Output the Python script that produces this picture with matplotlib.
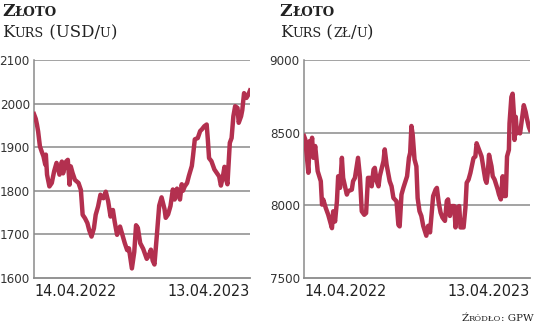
import matplotlib
matplotlib.use("Agg")
import matplotlib.pyplot as plt
import pandas as pd

# dni od 14.04.2022 i kurs zlota
usd_days = [0, 3, 5, 7, 10, 13, 16, 19, 20, 22, 26, 30, 34, 38, 43, 47, 49, 54, 57, 60,
            62, 65, 69, 75, 79, 82, 86, 90, 93, 97, 101, 104, 108, 112, 117, 121, 125, 129,
            133, 136, 140, 145, 149, 153, 157, 160, 165, 169, 172, 175, 179, 184, 190, 193,
            197, 200, 203, 207, 211, 215, 220, 222, 226, 230, 234, 237, 241, 246, 249, 251,
            254, 258, 261, 266, 268, 271, 276, 280, 283, 287, 291, 293, 295, 299, 304, 308,
            312, 315, 318, 321, 323, 326, 330, 333, 336, 339, 343, 345, 349, 351, 354, 358,
            361, 364]
usd_vals = [1976, 1965, 1952, 1936, 1902, 1890, 1879, 1860, 1883, 1837, 1810, 1818, 1845,
            1864, 1837, 1867, 1840, 1867, 1871, 1814, 1856, 1841, 1825, 1818, 1802, 1745,
            1737, 1726, 1710, 1695, 1714, 1745, 1764, 1791, 1783, 1798, 1776, 1741, 1756,
            1729, 1699, 1718, 1699, 1680, 1664, 1668, 1622, 1660, 1721, 1715, 1680, 1667,
            1644, 1650, 1665, 1640, 1631, 1697, 1766, 1785, 1758, 1738, 1746, 1765, 1803,
            1780, 1805, 1780, 1815, 1800, 1810, 1818, 1834, 1857, 1880, 1918, 1921, 1937,
            1941, 1948, 1952, 1917, 1875, 1868, 1849, 1841, 1833, 1812, 1830, 1855, 1830,
            1815, 1910, 1921, 1971, 1994, 1990, 1956, 1971, 1985, 2024, 2013, 2020, 2030]

pln_days = [0, 2, 4, 7, 9, 10, 13, 15, 18, 22, 27, 29, 31, 35, 39, 42, 45, 47, 50, 53, 55,
            58, 61, 63, 66, 69, 71, 77, 79, 82, 87, 90, 93, 97, 100, 103, 106, 109, 112, 114,
            117, 120, 122, 128, 130, 133, 138, 141, 144, 149, 152, 154, 157, 160, 166, 169,
            171, 173, 175, 178, 181, 183, 186, 189, 192, 197, 200, 203, 208, 212, 214, 217,
            220, 223, 227, 230, 232, 235, 238, 242, 244, 247, 250, 252, 257, 260, 262, 265,
            268, 273, 276, 278, 281, 284, 286, 292, 294, 296, 298, 302, 304, 307, 312, 314,
            317, 320, 322, 325, 327, 330, 331, 334, 336, 338, 339, 341, 343, 345, 348, 354,
            357, 359, 362, 364]
pln_vals = [8477, 8454, 8362, 8224, 8442, 8350, 8465, 8327, 8408, 8235, 8166, 8005, 8040,
            7982, 7935, 7889, 7843, 7959, 7889, 8028, 8200, 8120, 8327, 8189, 8131, 8074,
            8097, 8108, 8166, 8189, 8327, 8200, 7959, 7935, 7947, 8189, 8189, 8131, 8247,
            8258, 8166, 8131, 8200, 8304, 8385, 8281, 8166, 8131, 8051, 8028, 7866, 7855,
            8074, 8120, 8200, 8327, 8362, 8546, 8488, 8316, 8268, 8050, 7960, 7927, 7859,
            7791, 7859, 7814, 8064, 8109, 8120, 8018, 7950, 7916, 7893, 8030, 8041, 7927,
            7995, 7995, 7848, 7984, 7995, 7848, 7848, 7984, 8155, 8177, 8223, 8325, 8336,
            8427, 8393, 8359, 8336, 8177, 8155, 8223, 8348, 8268, 8200, 8177, 8109, 8075,
            8041, 8200, 8064, 8064, 8336, 8382, 8564, 8745, 8768, 8632, 8450, 8609, 8495,
            8518, 8495, 8689, 8643, 8598, 8541, 8518]

start = pd.Timestamp("2022-04-14")
end = pd.Timestamp("2023-04-13")
date_labels = ["14.04.2022", "13.04.2023"]

RED = "#b3304f"
GRID = "#8a8a8a"
DARK = "#222222"

fig = plt.figure(figsize=(5.36, 3.25), dpi=100)
ax1 = fig.add_axes([0.0634, 0.1446, 0.403, 0.6708])
ax2 = fig.add_axes([0.5672, 0.1446, 0.4216, 0.6708])


def setup(ax, days, vals, ylim, yticks):
    x = [start + pd.Timedelta(days=d) for d in days]
    ax.plot(x, vals, color=RED, lw=3.2, solid_joinstyle="round", zorder=3)
    ax.set_xlim(start, end)
    ax.set_ylim(*ylim)
    ax.set_yticks(yticks)
    ax.set_yticklabels([str(t) for t in yticks], family="DejaVu Sans", stretch="condensed",
                       fontsize=9.5, color="#333333")
    ax.set_xticks([start, end])
    labs = ax.set_xticklabels(date_labels, family="DejaVu Sans", stretch="condensed",
                              fontsize=11.5, color=DARK)
    labs[0].set_ha("left")
    labs[1].set_ha("right")
    ax.tick_params(length=0, pad=3)
    ax.tick_params(axis="x", pad=4)
    for t in yticks[1:]:
        ax.axhline(t, color=GRID, lw=1.1, zorder=1)
    for s in ["top", "right"]:
        ax.spines[s].set_visible(False)
    ax.spines["left"].set_color(GRID)
    ax.spines["bottom"].set_color(GRID)
    ax.spines["left"].set_linewidth(1.1)
    ax.spines["bottom"].set_linewidth(1.3)


setup(ax1, usd_days, usd_vals, (1600, 2100), [1600, 1700, 1800, 1900, 2000, 2100])
setup(ax2, pln_days, pln_vals, (7500, 9000), [7500, 8000, 8500, 9000])

renderer = fig.canvas.get_renderer()


def caps(x, y, parts, big, small, weight="normal", right=False):
    # male kapitaliki skladane z kawalkow tekstu
    texts = []
    for s, is_big in parts:
        t = fig.text(x, y, s, fontsize=big if is_big else small, family="DejaVu Serif",
                     weight=weight, color=DARK, va="baseline")
        texts.append(t)
    widths = [t.get_window_extent(renderer).width / fig.bbox.width for t in texts]
    if right:
        x -= sum(widths)
    for t, w in zip(texts, widths):
        t.set_x(x)
        x += w


caps(0.004, 0.951, [("Z", 1), ("ŁOTO", 0)], 12.5, 9.5, weight="bold")
caps(0.004, 0.886, [("K", 1), ("URS", 0), (" (USD/", 1), ("U", 0), (")", 1)], 12, 9.2)
caps(0.522, 0.951, [("Z", 1), ("ŁOTO", 0)], 12.5, 9.5, weight="bold")
caps(0.522, 0.886, [("K", 1), ("URS", 0), (" (", 1), ("ZŁ", 0), ("/", 1), ("U", 0), (")", 1)],
     12, 9.2)
caps(0.996, 0.013, [("Ź", 1), ("RÓDŁO", 0), (": GPW", 1)], 7.5, 6, right=True)

fig.savefig("out.png", dpi=100)
